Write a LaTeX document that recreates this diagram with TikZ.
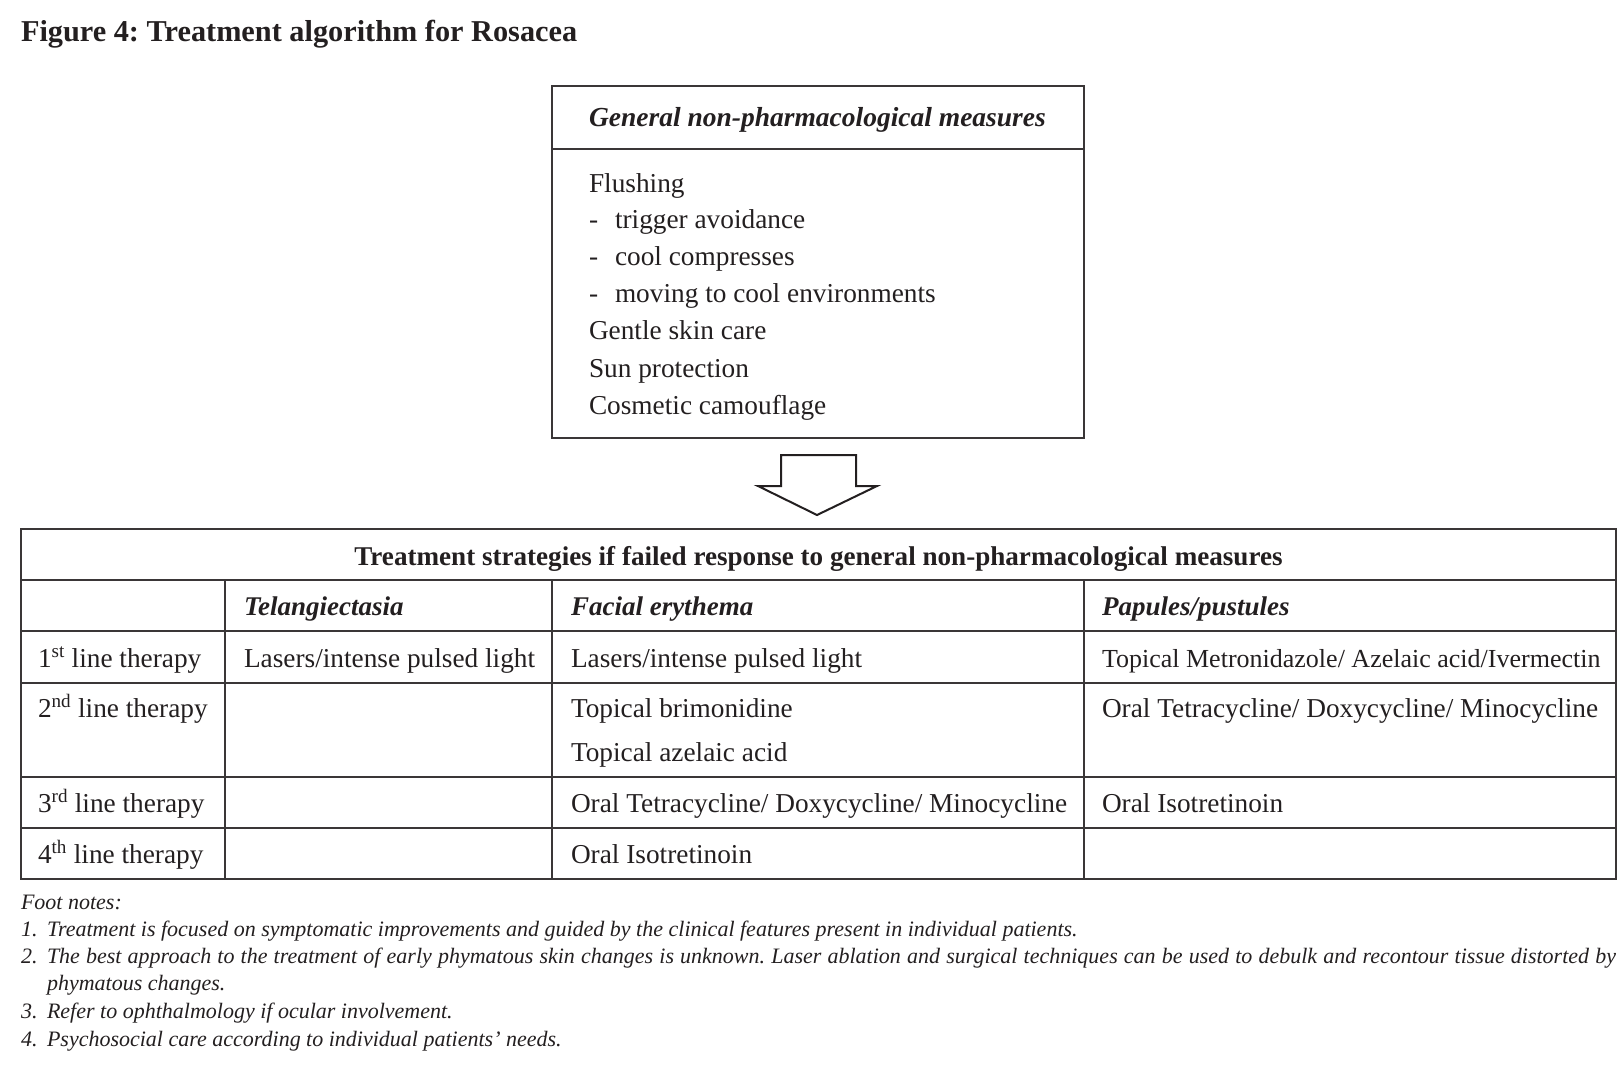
\documentclass[tikz,border=0pt]{standalone}
\usepackage{fontspec}
\setmainfont{Liberation Serif}
\definecolor{ink}{HTML}{231F20}
\definecolor{rule}{HTML}{3A3637}
\frenchspacing
\begin{document}
\frenchspacing
\begin{tikzpicture}[x=1pt,y=-1pt,
  every node/.style={inner sep=0pt,outer sep=0pt,text=ink},
  tt/.style={anchor=base west,font=\fontsize{27.3}{30}\selectfont},
  bx/.style={anchor=base west,font=\fontsize{27.3}{30}\selectfont},
  hd/.style={anchor=base west,font=\fontsize{27}{30}\selectfont\bfseries\itshape},
  fn/.style={anchor=base west,font=\fontsize{22}{24}\selectfont\itshape},
  outer/.style={draw=rule,line width=2.4pt},
  inner/.style={draw=rule,line width=1.4pt}]
\useasboundingbox (0,0) rectangle (1624,1069);

% title
\node[anchor=base west,font=\fontsize{30.3}{36}\selectfont\bfseries] (title) at (21,41) {Figure 4: Treatment algorithm for Rosacea};

% top box
\draw[outer,line width=2pt] (552,86) rectangle (1084,438);
\draw[inner] (552,149) -- (1084,149);
\node[anchor=base west,font=\fontsize{27.5}{30}\selectfont\bfseries\itshape] (genhd) at (589,126) {General non-pharmacological measures};
\node[bx] (b1) at (589,192) {Flushing};
\node[bx] (d2) at (589,228) {-};
\node[bx] (b2) at (615,228) {trigger avoidance};
\node[bx] (d3) at (589,265) {-};
\node[bx] (b3) at (615,265) {cool compresses};
\node[bx] (d4) at (589,302) {-};
\node[bx] (b4) at (615,302) {moving to cool environments};
\node[bx] (b5) at (589,339) {Gentle skin care};
\node[bx] (b6) at (589,377) {Sun protection};
\node[bx] (b7) at (589,414) {Cosmetic camouflage};

% block arrow
\draw[draw=ink,line width=2pt,line join=miter,fill=white]
  (781,455) -- (856,455) -- (856,486) -- (877,486) -- (817,515)
  -- (758,486) -- (781,486) -- cycle;

% table grid
\draw[inner] (21,580) -- (1616,580);
\draw[inner] (21,631) -- (1616,631);
\draw[inner] (21,683) -- (1616,683);
\draw[inner] (21,777) -- (1616,777);
\draw[inner] (21,828) -- (1616,828);
\draw[inner] (225,580) -- (225,879);
\draw[inner] (552,580) -- (552,879);
\draw[inner] (1084,580) -- (1084,879);
\draw[outer] (21,529) rectangle (1616,879);

% table header
\node[anchor=base,font=\fontsize{27.1}{30}\selectfont\bfseries] (thd) at (818.5,565) {Treatment strategies if failed response to general non-pharmacological measures};
\node[hd] (c2) at (244,615) {Telangiectasia};
\node[hd] (c3) at (571,615) {Facial erythema};
\node[hd] (c4) at (1102,615) {Papules/pustules};

% rows
\node[tt] (r1) at (38,667) {1\textsuperscript{st} line therapy};
\node[tt] (r2) at (38,717) {2\textsuperscript{nd} line therapy};
\node[tt] (r3) at (38,812) {3\textsuperscript{rd} line therapy};
\node[tt] (r4) at (38,863) {4\textsuperscript{th} line therapy};

\node[tt] (r1c2) at (244,667) {Lasers/intense pulsed light};
\node[tt] (r1c3) at (571,667) {Lasers/intense pulsed light};
\node[tt,font=\fontsize{26}{30}\selectfont] (r1c4) at (1102,667) {Topical Metronidazole/ Azelaic acid/Ivermectin};
\node[tt] (r2c3a) at (571,717) {Topical brimonidine};
\node[tt] (r2c3b) at (571,761) {Topical azelaic acid};
\node[tt] (r2c4) at (1102,717) {Oral Tetracycline/ Doxycycline/ Minocycline};
\node[tt] (r3c3) at (571,812) {Oral Tetracycline/ Doxycycline/ Minocycline};
\node[tt] (r3c4) at (1102,812) {Oral Isotretinoin};
\node[tt] (r4c3) at (571,863) {Oral Isotretinoin};

% footnotes
\node[fn] (fnh) at (21,909) {Foot notes:};
\node[fn] (n1) at (21,936) {1.};
\node[fn] (f1) at (47,936) {Treatment is focused on symptomatic improvements and guided by the clinical features present in individual patients.};
\node[fn] (n2) at (21,963) {2.};
\node[fn] (f2) at (47,963) {\makebox[1569pt][s]{The best approach to the treatment of early phymatous skin changes is unknown. Laser ablation and surgical techniques can be used to debulk and recontour tissue distorted by}};
\node[fn] (f2b) at (47,990) {phymatous changes.};
\node[fn] (n3) at (21,1018) {3.};
\node[fn] (f3) at (47,1018) {Refer to ophthalmology if ocular involvement.};
\node[fn] (n4) at (21,1046) {4.};
\node[fn] (f4) at (47,1046) {Psychosocial care according to individual patients’ needs.};
\end{tikzpicture}
\end{document}
